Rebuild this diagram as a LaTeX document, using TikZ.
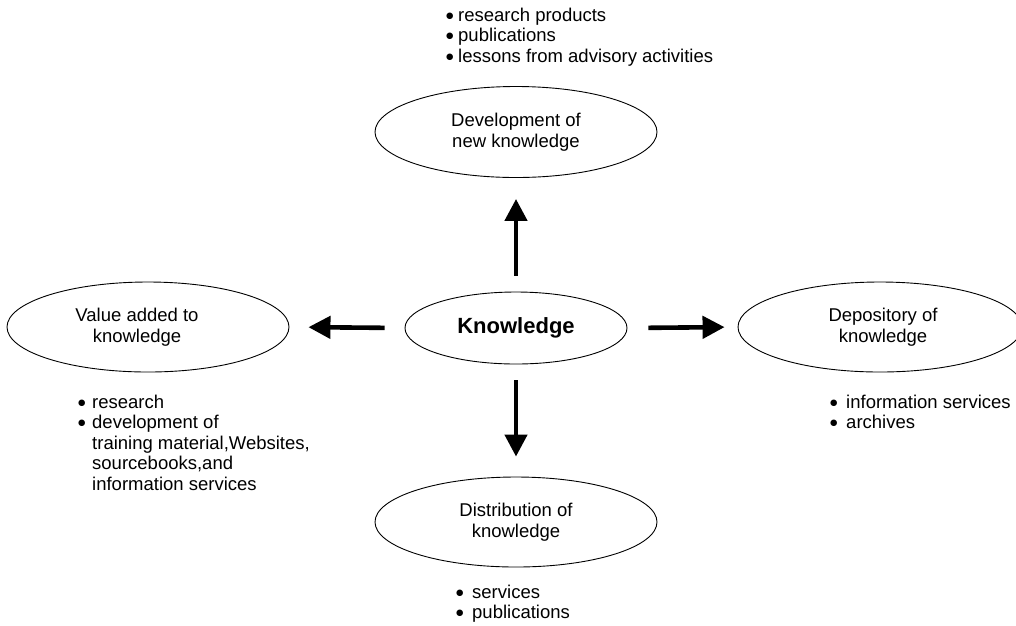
\documentclass[tikz,border=0pt]{standalone}
\usepackage{fontspec}
\setmainfont{Liberation Sans}
\newfontfamily\symfont{DejaVu Sans}
\usetikzlibrary{shapes.geometric,arrows.meta}
\newcommand{\bdot}{\raisebox{3pt}{\symfont\fontsize{8.5}{8.5}\selectfont ●}}
\newcommand{\bitem}[2]{\hbox{\makebox[#1][l]{\bdot}#2}}
\newcommand{\citem}[2]{\hbox{\hspace*{#1}#2}}
\begin{document}
\begin{tikzpicture}[x=1pt,y=1pt,
  oval/.style={draw, ellipse, line width=0.9pt, inner sep=0pt, align=center,
    font=\fontsize{18.5}{20.5}\selectfont},
  listtext/.style={inner sep=0pt, anchor=base west, font=\fontsize{18.5}{20.5}\selectfont},
  bigarrow/.style={line width=4.6pt, -{Triangle[length=22pt,width=22pt]}}]
\useasboundingbox (0,0) rectangle (1016,-625);
\node[oval, minimum width=222pt, minimum height=72pt, font=\fontsize{22}{24}\selectfont\bfseries] (know) at (516,-328) {Knowledge};
\node[oval, minimum width=282pt, minimum height=91pt] (dev) at (516,-132) {Development of\\new knowledge};
\node[oval, minimum width=282pt, minimum height=90pt] (val) at (148,-327) {Value added to\hspace*{22pt}\\knowledge\hspace*{22pt}};
\node[oval, minimum width=284pt, minimum height=90pt] (dep) at (880,-327) {Depository of\hspace*{-6pt}\\knowledge\hspace*{-6pt}};
\node[oval, minimum width=282pt, minimum height=90pt] (dist) at (516,-522) {Distribution of\\knowledge};

\draw[bigarrow, shorten <=16pt, shorten >=21pt] (know.north) -- (dev.south);
\draw[bigarrow, shorten <=20pt, shorten >=19pt] (know.west) -- (val.east);
\draw[bigarrow, shorten <=21pt, shorten >=13pt] (know.east) -- (dep.west);
\draw[bigarrow, shorten <=16pt, shorten >=20pt] (know.south) -- (dist.north);

\node[listtext] (devlist) at (446,-21) {\vtop{\bitem{12pt}{research products}\bitem{12pt}{publications}\bitem{12pt}{lessons from advisory activities}}};
\node[listtext] (vallist) at (78,-408) {\vtop{\bitem{14pt}{research}\bitem{14pt}{development of}\citem{14pt}{training material,Websites,}\citem{14pt}{sourcebooks,and}\citem{14pt}{information services}}};
\node[listtext] (deplist) at (830,-408) {\vtop{\bitem{16pt}{information services}\bitem{16pt}{archives}}};
\node[listtext] (distlist) at (456,-598) {\vtop{\bitem{16pt}{services}\bitem{16pt}{publications}}};
\end{tikzpicture}
\end{document}
